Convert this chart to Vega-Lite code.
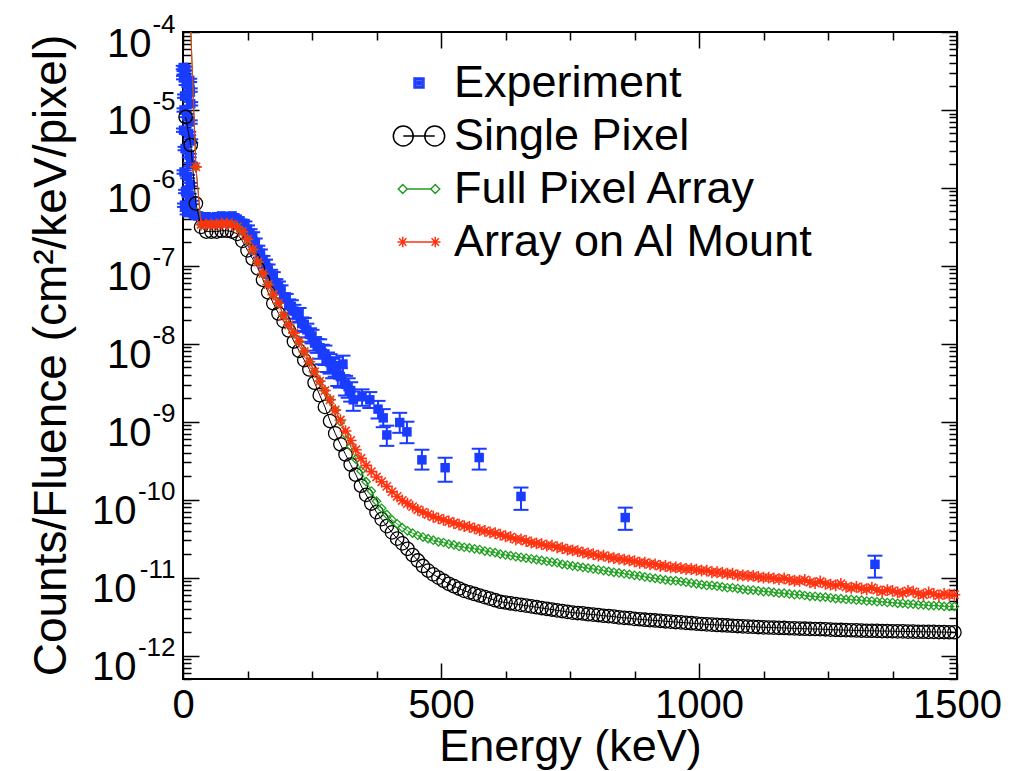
{
"$schema": "https://vega.github.io/schema/vega-lite/v6.json",
"width": 774, "height": 647,
"autosize": {"type": "none"},
"padding": {"left": 183, "top": 32, "right": 66, "bottom": 92},
"background": "white",
"config": {"view": {"stroke": "black", "strokeWidth": 2}, "font": "Liberation Sans"},
"datasets": {
"sp": [{"E":5,"v":8.13e-6},{"E":15,"v":3.55e-6},{"E":25,"v":6.31e-7},{"E":35,"v":3.16e-7},{"E":45,"v":2.75e-7},{"E":55,"v":2.75e-7},{"E":65,"v":2.75e-7},{"E":75,"v":2.82e-7},{"E":85,"v":2.82e-7},{"E":95,"v":2.75e-7},{"E":105,"v":2.57e-7},{"E":115,"v":2.09e-7},{"E":125,"v":1.58e-7},{"E":135,"v":1.23e-7},{"E":145,"v":9.33e-8},{"E":155,"v":6.61e-8},{"E":165,"v":4.57e-8},{"E":175,"v":3.31e-8},{"E":185,"v":2.45e-8},{"E":195,"v":1.95e-8},{"E":205,"v":1.48e-8},{"E":215,"v":1.07e-8},{"E":225,"v":8.13e-9},{"E":235,"v":6.17e-9},{"E":245,"v":4.68e-9},{"E":255,"v":3.16e-9},{"E":265,"v":2.19e-9},{"E":275,"v":1.55e-9},{"E":285,"v":1.02e-9},{"E":295,"v":7.08e-10},{"E":305,"v":5.13e-10},{"E":315,"v":3.80e-10},{"E":325,"v":2.82e-10},{"E":335,"v":2.09e-10},{"E":345,"v":1.51e-10},{"E":355,"v":1.15e-10},{"E":365,"v":8.91e-11},{"E":375,"v":6.92e-11},{"E":385,"v":5.62e-11},{"E":395,"v":4.57e-11},{"E":405,"v":3.80e-11},{"E":415,"v":3.16e-11},{"E":425,"v":2.75e-11},{"E":435,"v":2.34e-11},{"E":445,"v":1.95e-11},{"E":455,"v":1.66e-11},{"E":465,"v":1.41e-11},{"E":475,"v":1.23e-11},{"E":485,"v":1.10e-11},{"E":495,"v":1.00e-11},{"E":505,"v":9.12e-12},{"E":515,"v":8.32e-12},{"E":525,"v":7.76e-12},{"E":535,"v":7.24e-12},{"E":545,"v":6.76e-12},{"E":555,"v":6.46e-12},{"E":565,"v":6.17e-12},{"E":575,"v":5.89e-12},{"E":585,"v":5.62e-12},{"E":595,"v":5.37e-12},{"E":605,"v":5.13e-12},{"E":615,"v":4.90e-12},{"E":625,"v":4.79e-12},{"E":635,"v":4.68e-12},{"E":645,"v":4.57e-12},{"E":655,"v":4.47e-12},{"E":665,"v":4.37e-12},{"E":675,"v":4.27e-12},{"E":685,"v":4.17e-12},{"E":695,"v":4.07e-12},{"E":705,"v":3.98e-12},{"E":715,"v":3.89e-12},{"E":725,"v":3.80e-12},{"E":735,"v":3.72e-12},{"E":745,"v":3.63e-12},{"E":755,"v":3.55e-12},{"E":765,"v":3.51e-12},{"E":775,"v":3.47e-12},{"E":785,"v":3.39e-12},{"E":795,"v":3.35e-12},{"E":805,"v":3.31e-12},{"E":815,"v":3.24e-12},{"E":825,"v":3.20e-12},{"E":835,"v":3.16e-12},{"E":845,"v":3.09e-12},{"E":855,"v":3.05e-12},{"E":865,"v":3.02e-12},{"E":875,"v":2.95e-12},{"E":885,"v":2.92e-12},{"E":895,"v":2.88e-12},{"E":905,"v":2.85e-12},{"E":915,"v":2.82e-12},{"E":925,"v":2.79e-12},{"E":935,"v":2.75e-12},{"E":945,"v":2.72e-12},{"E":955,"v":2.69e-12},{"E":965,"v":2.66e-12},{"E":975,"v":2.63e-12},{"E":985,"v":2.60e-12},{"E":995,"v":2.57e-12},{"E":1005,"v":2.54e-12},{"E":1015,"v":2.51e-12},{"E":1025,"v":2.49e-12},{"E":1035,"v":2.47e-12},{"E":1045,"v":2.45e-12},{"E":1055,"v":2.43e-12},{"E":1065,"v":2.41e-12},{"E":1075,"v":2.39e-12},{"E":1085,"v":2.37e-12},{"E":1095,"v":2.35e-12},{"E":1105,"v":2.34e-12},{"E":1115,"v":2.32e-12},{"E":1125,"v":2.30e-12},{"E":1135,"v":2.29e-12},{"E":1145,"v":2.28e-12},{"E":1155,"v":2.27e-12},{"E":1165,"v":2.26e-12},{"E":1175,"v":2.24e-12},{"E":1185,"v":2.23e-12},{"E":1195,"v":2.22e-12},{"E":1205,"v":2.21e-12},{"E":1215,"v":2.20e-12},{"E":1225,"v":2.19e-12},{"E":1235,"v":2.18e-12},{"E":1245,"v":2.17e-12},{"E":1255,"v":2.15e-12},{"E":1265,"v":2.14e-12},{"E":1275,"v":2.13e-12},{"E":1285,"v":2.12e-12},{"E":1295,"v":2.11e-12},{"E":1305,"v":2.10e-12},{"E":1315,"v":2.09e-12},{"E":1325,"v":2.08e-12},{"E":1335,"v":2.08e-12},{"E":1345,"v":2.07e-12},{"E":1355,"v":2.06e-12},{"E":1365,"v":2.06e-12},{"E":1375,"v":2.05e-12},{"E":1385,"v":2.04e-12},{"E":1395,"v":2.04e-12},{"E":1405,"v":2.03e-12},{"E":1415,"v":2.03e-12},{"E":1425,"v":2.02e-12},{"E":1435,"v":2.02e-12},{"E":1445,"v":2.01e-12},{"E":1455,"v":2.01e-12},{"E":1465,"v":2.00e-12},{"E":1475,"v":2.00e-12},{"E":1485,"v":1.99e-12},{"E":1495,"v":1.99e-12}],
"fpa": [{"E":15,"v":1.1e-4},{"E":25,"v":1.86e-6},{"E":35,"v":3.39e-7},{"E":45,"v":3.39e-7},{"E":55,"v":3.39e-7},{"E":65,"v":3.39e-7},{"E":75,"v":3.47e-7},{"E":85,"v":3.47e-7},{"E":95,"v":3.39e-7},{"E":105,"v":3.16e-7},{"E":115,"v":2.75e-7},{"E":125,"v":2.19e-7},{"E":135,"v":1.62e-7},{"E":145,"v":1.12e-7},{"E":155,"v":7.94e-8},{"E":165,"v":5.75e-8},{"E":175,"v":4.27e-8},{"E":185,"v":3.31e-8},{"E":195,"v":2.29e-8},{"E":205,"v":1.74e-8},{"E":215,"v":1.38e-8},{"E":225,"v":1.07e-8},{"E":235,"v":7.94e-9},{"E":245,"v":5.89e-9},{"E":255,"v":4.37e-9},{"E":265,"v":3.31e-9},{"E":275,"v":2.51e-9},{"E":285,"v":1.91e-9},{"E":295,"v":1.41e-9},{"E":305,"v":1.00e-9},{"E":315,"v":6.92e-10},{"E":325,"v":4.79e-10},{"E":335,"v":3.31e-10},{"E":345,"v":2.34e-10},{"E":355,"v":1.70e-10},{"E":365,"v":1.29e-10},{"E":375,"v":9.55e-11},{"E":385,"v":7.76e-11},{"E":395,"v":6.46e-11},{"E":405,"v":5.50e-11},{"E":415,"v":4.90e-11},{"E":425,"v":4.37e-11},{"E":435,"v":3.98e-11},{"E":445,"v":3.72e-11},{"E":455,"v":3.47e-11},{"E":465,"v":3.31e-11},{"E":475,"v":3.16e-11},{"E":485,"v":3.02e-11},{"E":495,"v":2.88e-11},{"E":505,"v":2.82e-11},{"E":515,"v":2.69e-11},{"E":525,"v":2.63e-11},{"E":535,"v":2.51e-11},{"E":545,"v":2.45e-11},{"E":555,"v":2.40e-11},{"E":565,"v":2.34e-11},{"E":575,"v":2.29e-11},{"E":585,"v":2.19e-11},{"E":595,"v":2.14e-11},{"E":605,"v":2.09e-11},{"E":615,"v":2.00e-11},{"E":625,"v":1.95e-11},{"E":635,"v":1.91e-11},{"E":645,"v":1.86e-11},{"E":655,"v":1.82e-11},{"E":665,"v":1.78e-11},{"E":675,"v":1.74e-11},{"E":685,"v":1.70e-11},{"E":695,"v":1.66e-11},{"E":705,"v":1.62e-11},{"E":715,"v":1.58e-11},{"E":725,"v":1.55e-11},{"E":735,"v":1.48e-11},{"E":745,"v":1.45e-11},{"E":755,"v":1.41e-11},{"E":765,"v":1.38e-11},{"E":775,"v":1.35e-11},{"E":785,"v":1.32e-11},{"E":795,"v":1.29e-11},{"E":805,"v":1.26e-11},{"E":815,"v":1.23e-11},{"E":825,"v":1.20e-11},{"E":835,"v":1.17e-11},{"E":845,"v":1.15e-11},{"E":855,"v":1.12e-11},{"E":865,"v":1.10e-11},{"E":875,"v":1.07e-11},{"E":885,"v":1.05e-11},{"E":895,"v":1.02e-11},{"E":905,"v":1.00e-11},{"E":915,"v":9.77e-12},{"E":925,"v":9.55e-12},{"E":935,"v":9.33e-12},{"E":945,"v":9.12e-12},{"E":955,"v":9.12e-12},{"E":965,"v":8.91e-12},{"E":975,"v":8.71e-12},{"E":985,"v":8.51e-12},{"E":995,"v":8.32e-12},{"E":1005,"v":8.13e-12},{"E":1015,"v":7.94e-12},{"E":1025,"v":7.94e-12},{"E":1035,"v":7.76e-12},{"E":1045,"v":7.59e-12},{"E":1055,"v":7.41e-12},{"E":1065,"v":7.41e-12},{"E":1075,"v":7.24e-12},{"E":1085,"v":7.08e-12},{"E":1095,"v":6.92e-12},{"E":1105,"v":6.92e-12},{"E":1115,"v":6.76e-12},{"E":1125,"v":6.61e-12},{"E":1135,"v":6.61e-12},{"E":1145,"v":6.46e-12},{"E":1155,"v":6.31e-12},{"E":1165,"v":6.31e-12},{"E":1175,"v":6.17e-12},{"E":1185,"v":6.03e-12},{"E":1195,"v":6.03e-12},{"E":1205,"v":5.89e-12},{"E":1215,"v":5.75e-12},{"E":1225,"v":5.75e-12},{"E":1235,"v":5.62e-12},{"E":1245,"v":5.62e-12},{"E":1255,"v":5.50e-12},{"E":1265,"v":5.37e-12},{"E":1275,"v":5.37e-12},{"E":1285,"v":5.25e-12},{"E":1295,"v":5.25e-12},{"E":1305,"v":5.13e-12},{"E":1315,"v":5.13e-12},{"E":1325,"v":5.01e-12},{"E":1335,"v":5.01e-12},{"E":1345,"v":4.90e-12},{"E":1355,"v":4.90e-12},{"E":1365,"v":4.79e-12},{"E":1375,"v":4.79e-12},{"E":1385,"v":4.68e-12},{"E":1395,"v":4.68e-12},{"E":1405,"v":4.57e-12},{"E":1415,"v":4.57e-12},{"E":1425,"v":4.47e-12},{"E":1435,"v":4.47e-12},{"E":1445,"v":4.37e-12},{"E":1455,"v":4.37e-12},{"E":1465,"v":4.37e-12},{"E":1475,"v":4.27e-12},{"E":1485,"v":4.27e-12},{"E":1495,"v":4.27e-12}],
"al": [{"E":15,"v":1.1e-4},{"E":25,"v":1.86e-6},{"E":35,"v":3.39e-7},{"E":45,"v":3.39e-7},{"E":55,"v":3.39e-7},{"E":65,"v":3.39e-7},{"E":75,"v":3.47e-7},{"E":85,"v":3.47e-7},{"E":95,"v":3.39e-7},{"E":105,"v":3.16e-7},{"E":115,"v":2.75e-7},{"E":125,"v":2.19e-7},{"E":135,"v":1.62e-7},{"E":145,"v":1.12e-7},{"E":155,"v":7.94e-8},{"E":165,"v":5.75e-8},{"E":175,"v":4.27e-8},{"E":185,"v":3.31e-8},{"E":195,"v":2.29e-8},{"E":205,"v":1.74e-8},{"E":215,"v":1.38e-8},{"E":225,"v":1.07e-8},{"E":235,"v":7.94e-9},{"E":245,"v":5.89e-9},{"E":255,"v":4.37e-9},{"E":265,"v":3.31e-9},{"E":275,"v":2.51e-9},{"E":285,"v":1.91e-9},{"E":295,"v":1.41e-9},{"E":305,"v":1.05e-9},{"E":315,"v":7.59e-10},{"E":325,"v":5.75e-10},{"E":335,"v":4.37e-10},{"E":345,"v":3.39e-10},{"E":355,"v":2.75e-10},{"E":365,"v":2.29e-10},{"E":375,"v":1.95e-10},{"E":385,"v":1.70e-10},{"E":395,"v":1.48e-10},{"E":405,"v":1.26e-10},{"E":415,"v":1.10e-10},{"E":425,"v":9.77e-11},{"E":435,"v":8.91e-11},{"E":445,"v":8.13e-11},{"E":455,"v":7.41e-11},{"E":465,"v":6.92e-11},{"E":475,"v":6.46e-11},{"E":485,"v":6.03e-11},{"E":495,"v":5.75e-11},{"E":505,"v":5.50e-11},{"E":515,"v":5.25e-11},{"E":525,"v":5.01e-11},{"E":535,"v":4.79e-11},{"E":545,"v":4.57e-11},{"E":555,"v":4.47e-11},{"E":565,"v":4.27e-11},{"E":575,"v":4.07e-11},{"E":585,"v":3.98e-11},{"E":595,"v":3.80e-11},{"E":605,"v":3.72e-11},{"E":615,"v":3.55e-11},{"E":625,"v":3.39e-11},{"E":635,"v":3.31e-11},{"E":645,"v":3.09e-11},{"E":655,"v":3.09e-11},{"E":665,"v":2.95e-11},{"E":675,"v":2.82e-11},{"E":685,"v":2.75e-11},{"E":695,"v":2.69e-11},{"E":705,"v":2.57e-11},{"E":715,"v":2.57e-11},{"E":725,"v":2.45e-11},{"E":735,"v":2.40e-11},{"E":745,"v":2.29e-11},{"E":755,"v":2.24e-11},{"E":765,"v":2.19e-11},{"E":775,"v":2.09e-11},{"E":785,"v":2.04e-11},{"E":795,"v":2.00e-11},{"E":805,"v":1.91e-11},{"E":815,"v":1.91e-11},{"E":825,"v":1.82e-11},{"E":835,"v":1.78e-11},{"E":845,"v":1.74e-11},{"E":855,"v":1.70e-11},{"E":865,"v":1.66e-11},{"E":875,"v":1.62e-11},{"E":885,"v":1.55e-11},{"E":895,"v":1.55e-11},{"E":905,"v":1.48e-11},{"E":915,"v":1.48e-11},{"E":925,"v":1.41e-11},{"E":935,"v":1.41e-11},{"E":945,"v":1.35e-11},{"E":955,"v":1.35e-11},{"E":965,"v":1.32e-11},{"E":975,"v":1.29e-11},{"E":985,"v":1.29e-11},{"E":995,"v":1.26e-11},{"E":1005,"v":1.23e-11},{"E":1015,"v":1.23e-11},{"E":1025,"v":1.17e-11},{"E":1035,"v":1.17e-11},{"E":1045,"v":1.15e-11},{"E":1055,"v":1.12e-11},{"E":1065,"v":1.12e-11},{"E":1075,"v":1.07e-11},{"E":1085,"v":1.07e-11},{"E":1095,"v":1.05e-11},{"E":1105,"v":1.05e-11},{"E":1115,"v":1.02e-11},{"E":1125,"v":1.00e-11},{"E":1135,"v":1.00e-11},{"E":1145,"v":9.77e-12},{"E":1155,"v":9.55e-12},{"E":1165,"v":9.77e-12},{"E":1175,"v":9.33e-12},{"E":1185,"v":9.12e-12},{"E":1195,"v":9.12e-12},{"E":1205,"v":9.33e-12},{"E":1215,"v":8.71e-12},{"E":1225,"v":8.51e-12},{"E":1235,"v":8.91e-12},{"E":1245,"v":8.32e-12},{"E":1255,"v":8.13e-12},{"E":1265,"v":7.94e-12},{"E":1275,"v":8.32e-12},{"E":1285,"v":7.59e-12},{"E":1295,"v":7.41e-12},{"E":1305,"v":7.59e-12},{"E":1315,"v":7.24e-12},{"E":1325,"v":7.08e-12},{"E":1335,"v":7.41e-12},{"E":1345,"v":6.92e-12},{"E":1355,"v":6.61e-12},{"E":1365,"v":6.92e-12},{"E":1375,"v":6.76e-12},{"E":1385,"v":6.46e-12},{"E":1395,"v":6.31e-12},{"E":1405,"v":6.76e-12},{"E":1415,"v":6.61e-12},{"E":1425,"v":6.17e-12},{"E":1435,"v":6.03e-12},{"E":1445,"v":6.46e-12},{"E":1455,"v":6.17e-12},{"E":1465,"v":5.89e-12},{"E":1475,"v":6.17e-12},{"E":1485,"v":6.03e-12},{"E":1495,"v":6.03e-12}],
"exp": [
{"s":"Experiment","E":0.5,"v":3.5e-5,"lo":3.33e-5,"hi":3.68e-5},
{"s":"Experiment","E":2,"v":3.0e-5,"lo":2.85e-5,"hi":3.15e-5},
{"s":"Experiment","E":4,"v":3.4e-5,"lo":3.23e-5,"hi":3.57e-5},
{"s":"Experiment","E":1,"v":2.6e-5,"lo":2.47e-5,"hi":2.73e-5},
{"s":"Experiment","E":6,"v":2.2e-5,"lo":2.09e-5,"hi":2.31e-5},
{"s":"Experiment","E":13,"v":2.4e-5,"lo":2.28e-5,"hi":2.52e-5},
{"s":"Experiment","E":14,"v":1.8e-5,"lo":1.71e-5,"hi":1.89e-5},
{"s":"Experiment","E":3,"v":1.5e-5,"lo":1.43e-5,"hi":1.58e-5},
{"s":"Experiment","E":9,"v":1.6e-5,"lo":1.52e-5,"hi":1.68e-5},
{"s":"Experiment","E":15,"v":1.2e-5,"lo":1.14e-5,"hi":1.26e-5},
{"s":"Experiment","E":2,"v":1.0e-5,"lo":9.5e-6,"hi":1.05e-5},
{"s":"Experiment","E":7,"v":8.5e-6,"lo":8.08e-6,"hi":8.93e-6},
{"s":"Experiment","E":14,"v":7.0e-6,"lo":6.65e-6,"hi":7.35e-6},
{"s":"Experiment","E":1,"v":5.5e-6,"lo":5.23e-6,"hi":5.78e-6},
{"s":"Experiment","E":11,"v":5.0e-6,"lo":4.75e-6,"hi":5.25e-6},
{"s":"Experiment","E":15,"v":4.0e-6,"lo":3.8e-6,"hi":4.2e-6},
{"s":"Experiment","E":4,"v":3.2e-6,"lo":3.04e-6,"hi":3.36e-6},
{"s":"Experiment","E":12,"v":2.6e-6,"lo":2.47e-6,"hi":2.73e-6},
{"s":"Experiment","E":15,"v":2.0e-6,"lo":1.9e-6,"hi":2.1e-6},
{"s":"Experiment","E":2,"v":1.6e-6,"lo":1.52e-6,"hi":1.68e-6},
{"s":"Experiment","E":9,"v":1.4e-6,"lo":1.33e-6,"hi":1.47e-6},
{"s":"Experiment","E":14,"v":1.1e-6,"lo":1.05e-6,"hi":1.16e-6},
{"s":"Experiment","E":5,"v":9.0e-7,"lo":8.55e-7,"hi":9.45e-7},
{"s":"Experiment","E":12,"v":8.0e-7,"lo":7.6e-7,"hi":8.4e-7},
{"s":"Experiment","E":17,"v":6.5e-7,"lo":6.18e-7,"hi":6.83e-7},
{"s":"Experiment","E":3,"v":6.0e-7,"lo":5.7e-7,"hi":6.3e-7},
{"s":"Experiment","E":10,"v":5.5e-7,"lo":5.23e-7,"hi":5.78e-7},
{"s":"Experiment","E":16,"v":5.0e-7,"lo":4.75e-7,"hi":5.25e-7},
{"s":"Experiment","E":21,"v":4.6e-7,"lo":4.37e-7,"hi":4.83e-7},
{"s":"Experiment","E":8,"v":4.8e-7,"lo":4.56e-7,"hi":5.04e-7},
{"s":"Experiment","E":25,"v":4.4e-7,"lo":4.18e-7,"hi":4.62e-7},
{"s":"Experiment","E":30,"v":4.37e-7,"lo":4.11e-7,"hi":4.63e-7},
{"s":"Experiment","E":35,"v":4.17e-7,"lo":3.92e-7,"hi":4.42e-7},
{"s":"Experiment","E":40,"v":3.98e-7,"lo":3.74e-7,"hi":4.22e-7},
{"s":"Experiment","E":45,"v":4.27e-7,"lo":4.01e-7,"hi":4.53e-7},
{"s":"Experiment","E":50,"v":4.07e-7,"lo":3.83e-7,"hi":4.31e-7},
{"s":"Experiment","E":55,"v":4.17e-7,"lo":3.92e-7,"hi":4.42e-7},
{"s":"Experiment","E":60,"v":3.98e-7,"lo":3.74e-7,"hi":4.22e-7},
{"s":"Experiment","E":65,"v":4.27e-7,"lo":4.01e-7,"hi":4.53e-7},
{"s":"Experiment","E":70,"v":4.17e-7,"lo":3.92e-7,"hi":4.42e-7},
{"s":"Experiment","E":75,"v":4.37e-7,"lo":4.11e-7,"hi":4.63e-7},
{"s":"Experiment","E":80,"v":4.07e-7,"lo":3.83e-7,"hi":4.31e-7},
{"s":"Experiment","E":85,"v":4.27e-7,"lo":4.01e-7,"hi":4.53e-7},
{"s":"Experiment","E":90,"v":4.17e-7,"lo":3.92e-7,"hi":4.42e-7},
{"s":"Experiment","E":95,"v":4.37e-7,"lo":4.11e-7,"hi":4.63e-7},
{"s":"Experiment","E":100,"v":4.07e-7,"lo":3.83e-7,"hi":4.31e-7},
{"s":"Experiment","E":105,"v":3.98e-7,"lo":3.74e-7,"hi":4.22e-7},
{"s":"Experiment","E":110,"v":3.72e-7,"lo":3.50e-7,"hi":3.94e-7},
{"s":"Experiment","E":115,"v":3.47e-7,"lo":3.05e-7,"hi":3.89e-7},
{"s":"Experiment","E":120,"v":3.31e-7,"lo":2.91e-7,"hi":3.71e-7},
{"s":"Experiment","E":125,"v":2.95e-7,"lo":2.60e-7,"hi":3.30e-7},
{"s":"Experiment","E":130,"v":2.63e-7,"lo":2.31e-7,"hi":2.95e-7},
{"s":"Experiment","E":135,"v":2.40e-7,"lo":2.11e-7,"hi":2.69e-7},
{"s":"Experiment","E":140,"v":2.00e-7,"lo":1.76e-7,"hi":2.24e-7},
{"s":"Experiment","E":145,"v":1.62e-7,"lo":1.43e-7,"hi":1.81e-7},
{"s":"Experiment","E":150,"v":1.45e-7,"lo":1.28e-7,"hi":1.62e-7},
{"s":"Experiment","E":155,"v":1.20e-7,"lo":1.06e-7,"hi":1.34e-7},
{"s":"Experiment","E":160,"v":1.07e-7,"lo":9.42e-8,"hi":1.20e-7},
{"s":"Experiment","E":165,"v":9.33e-8,"lo":8.21e-8,"hi":1.04e-7},
{"s":"Experiment","E":170,"v":7.94e-8,"lo":6.99e-8,"hi":8.89e-8},
{"s":"Experiment","E":175,"v":7.41e-8,"lo":6.52e-8,"hi":8.30e-8},
{"s":"Experiment","E":180,"v":6.03e-8,"lo":5.31e-8,"hi":6.75e-8},
{"s":"Experiment","E":185,"v":5.62e-8,"lo":4.95e-8,"hi":6.29e-8},
{"s":"Experiment","E":190,"v":5.01e-8,"lo":4.41e-8,"hi":5.61e-8},
{"s":"Experiment","E":195,"v":3.98e-8,"lo":3.50e-8,"hi":4.46e-8},
{"s":"Experiment","E":200,"v":3.89e-8,"lo":3.42e-8,"hi":4.36e-8},
{"s":"Experiment","E":205,"v":3.09e-8,"lo":2.47e-8,"hi":3.71e-8},
{"s":"Experiment","E":210,"v":3.02e-8,"lo":2.42e-8,"hi":3.62e-8},
{"s":"Experiment","E":215,"v":2.63e-8,"lo":2.10e-8,"hi":3.16e-8},
{"s":"Experiment","E":220,"v":2.34e-8,"lo":1.87e-8,"hi":2.81e-8},
{"s":"Experiment","E":225,"v":2.40e-8,"lo":1.92e-8,"hi":2.88e-8},
{"s":"Experiment","E":230,"v":1.82e-8,"lo":1.46e-8,"hi":2.18e-8},
{"s":"Experiment","E":235,"v":1.78e-8,"lo":1.42e-8,"hi":2.14e-8},
{"s":"Experiment","E":240,"v":1.51e-8,"lo":1.21e-8,"hi":1.81e-8},
{"s":"Experiment","E":245,"v":1.32e-8,"lo":1.06e-8,"hi":1.58e-8},
{"s":"Experiment","E":250,"v":1.26e-8,"lo":1.01e-8,"hi":1.51e-8},
{"s":"Experiment","E":255,"v":1.02e-8,"lo":8.16e-9,"hi":1.22e-8},
{"s":"Experiment","E":260,"v":9.55e-9,"lo":7.64e-9,"hi":1.15e-8},
{"s":"Experiment","E":265,"v":8.91e-9,"lo":6.42e-9,"hi":1.14e-8},
{"s":"Experiment","E":270,"v":7.59e-9,"lo":5.46e-9,"hi":9.72e-9},
{"s":"Experiment","E":275,"v":7.41e-9,"lo":5.34e-9,"hi":9.48e-9},
{"s":"Experiment","E":280,"v":6.03e-9,"lo":4.34e-9,"hi":7.72e-9},
{"s":"Experiment","E":285,"v":5.75e-9,"lo":4.14e-9,"hi":7.36e-9},
{"s":"Experiment","E":290,"v":5.01e-9,"lo":3.61e-9,"hi":6.41e-9},
{"s":"Experiment","E":295,"v":5.25e-9,"lo":3.78e-9,"hi":6.72e-9},
{"s":"Experiment","E":300,"v":3.98e-9,"lo":2.87e-9,"hi":5.09e-9},
{"s":"Experiment","E":305,"v":3.80e-9,"lo":2.74e-9,"hi":4.86e-9},
{"s":"Experiment","E":310,"v":5.50e-9,"lo":3.96e-9,"hi":7.04e-9},
{"s":"Experiment","E":315,"v":3.02e-9,"lo":2.17e-9,"hi":3.87e-9},
{"s":"Experiment","E":320,"v":2.82e-9,"lo":2.03e-9,"hi":3.61e-9},
{"s":"Experiment","E":325,"v":2.51e-9,"lo":1.81e-9,"hi":3.21e-9},
{"s":"Experiment","E":330,"v":1.91e-9,"lo":1.38e-9,"hi":2.44e-9},
{"s":"Experiment","E":347,"v":2.09e-9,"lo":1.6e-9,"hi":2.6e-9},
{"s":"Experiment","E":362,"v":1.91e-9,"lo":1.5e-9,"hi":2.4e-9},
{"s":"Experiment","E":378,"v":1.45e-9,"lo":1.1e-9,"hi":1.85e-9},
{"s":"Experiment","E":388,"v":1.12e-9,"lo":8.5e-10,"hi":1.45e-9},
{"s":"Experiment","E":395,"v":6.76e-10,"lo":4.9e-10,"hi":8.9e-10},
{"s":"Experiment","E":420,"v":9.77e-10,"lo":7.2e-10,"hi":1.3e-9},
{"s":"Experiment","E":434,"v":7.41e-10,"lo":5.3e-10,"hi":1.0e-9},
{"s":"Experiment","E":463,"v":3.24e-10,"lo":2.43e-10,"hi":4.37e-10},
{"s":"Experiment","E":508,"v":2.57e-10,"lo":1.7e-10,"hi":3.45e-10},
{"s":"Experiment","E":574,"v":3.47e-10,"lo":2.43e-10,"hi":4.5e-10},
{"s":"Experiment","E":655,"v":1.10e-10,"lo":7.4e-11,"hi":1.43e-10},
{"s":"Experiment","E":857,"v":5.89e-11,"lo":4.1e-11,"hi":7.9e-11},
{"s":"Experiment","E":1341,"v":1.48e-11,"lo":1.0e-11,"hi":1.91e-11}
]
},
"resolve": {"axis": {"x": "independent", "y": "independent"}},
"layer": [
{
"data": {"name": "exp"},
"mark": {"type": "rule", "color": "#1a3cff", "strokeWidth": 2},
"encoding": {
"x": {"field": "E", "type": "quantitative", "scale": {"domain": [0, 1500], "nice": false, "zero": false},
 "axis": {"orient": "bottom", "values": [0,125,250,375,500,625,750,875,1000,1125,1250,1375,1500], "labels": false, "domain": false, "grid": false, "tickColor": "black", "tickWidth": 1.5, "tickSize": {"condition": {"test": "datum.value % 500 === 0", "value": -16}, "value": -8}, "title": null}},
"y": {"field": "lo", "type": "quantitative", "scale": {"type": "log", "domain": [5e-13, 1e-4], "nice": false},
 "axis": {"orient": "left", "values": [5e-13,6e-13,7e-13,8e-13,9e-13,1e-12,2e-12,3e-12,4e-12,5e-12,6e-12,7e-12,8e-12,9e-12,1e-11,2e-11,3e-11,4e-11,5e-11,6e-11,7e-11,8e-11,9e-11,1e-10,2e-10,3e-10,4e-10,5e-10,6e-10,7e-10,8e-10,9e-10,1e-9,2e-9,3e-9,4e-9,5e-9,6e-9,7e-9,8e-9,9e-9,1e-8,2e-8,3e-8,4e-8,5e-8,6e-8,7e-8,8e-8,9e-8,1e-7,2e-7,3e-7,4e-7,5e-7,6e-7,7e-7,8e-7,9e-7,1e-6,2e-6,3e-6,4e-6,5e-6,6e-6,7e-6,8e-6,9e-6,1e-5,2e-5,3e-5,4e-5,5e-5,6e-5,7e-5,8e-5,9e-5,1e-4], "labels": false, "domain": false, "grid": false, "tickColor": "black", "tickWidth": 1.5, "tickSize": {"condition": {"test": "abs(log(datum.value)/LN10-round(log(datum.value)/LN10))<0.001", "value": -16}, "value": -8}, "title": null}},
"y2": {"field": "hi"}
}
},
{
"data": {"name": "exp"},
"mark": {"type": "tick", "orient": "horizontal", "color": "#1a3cff", "size": 15, "thickness": 2, "opacity": 1},
"encoding": {
"x": {"field": "E", "type": "quantitative", "scale": {"domain": [0, 1500], "nice": false, "zero": false},
 "axis": {"orient": "top", "values": [0,125,250,375,500,625,750,875,1000,1125,1250,1375,1500], "labels": false, "domain": false, "grid": false, "tickColor": "black", "tickWidth": 1.5, "tickSize": {"condition": {"test": "datum.value % 500 === 0", "value": -16}, "value": -8}, "title": null}},
"y": {"field": "lo", "type": "quantitative", "scale": {"type": "log", "domain": [5e-13, 1e-4], "nice": false},
 "axis": {"orient": "right", "values": [5e-13,6e-13,7e-13,8e-13,9e-13,1e-12,2e-12,3e-12,4e-12,5e-12,6e-12,7e-12,8e-12,9e-12,1e-11,2e-11,3e-11,4e-11,5e-11,6e-11,7e-11,8e-11,9e-11,1e-10,2e-10,3e-10,4e-10,5e-10,6e-10,7e-10,8e-10,9e-10,1e-9,2e-9,3e-9,4e-9,5e-9,6e-9,7e-9,8e-9,9e-9,1e-8,2e-8,3e-8,4e-8,5e-8,6e-8,7e-8,8e-8,9e-8,1e-7,2e-7,3e-7,4e-7,5e-7,6e-7,7e-7,8e-7,9e-7,1e-6,2e-6,3e-6,4e-6,5e-6,6e-6,7e-6,8e-6,9e-6,1e-5,2e-5,3e-5,4e-5,5e-5,6e-5,7e-5,8e-5,9e-5,1e-4], "labels": false, "domain": false, "grid": false, "tickColor": "black", "tickWidth": 1.5, "tickSize": {"condition": {"test": "abs(log(datum.value)/LN10-round(log(datum.value)/LN10))<0.001", "value": -16}, "value": -8}, "title": null}}
}
},
{
"data": {"name": "exp"},
"mark": {"type": "tick", "orient": "horizontal", "color": "#1a3cff", "size": 15, "thickness": 2, "opacity": 1},
"encoding": {
"x": {"field": "E", "type": "quantitative", "scale": {"domain": [0, 1500], "nice": false, "zero": false},
 "axis": {"orient": "bottom", "values": [0, 500, 1000, 1500], "ticks": false, "tickSize": 0, "domain": false, "grid": false, "format": "d", "labelFont": "Liberation Sans", "labelFontSize": 40, "labelColor": "black", "labelPadding": 6, "labelFlush": false, "labelOverlap": false, "labelBound": false, "title": "Energy (keV)", "titleFont": "Liberation Sans", "titleFontSize": 45, "titleFontWeight": "normal", "titleColor": "black", "titleX": 387, "titleY": 81, "titleBaseline": "alphabetic"}},
"y": {"field": "hi", "type": "quantitative", "scale": {"type": "log", "domain": [5e-13, 1e-4], "nice": false},
 "axis": {"orient": "left", "values": [1e-12,1e-11,1e-10,1e-9,1e-8,1e-7,1e-6,1e-5,1e-4], "ticks": false, "tickSize": 0, "domain": false, "grid": false, "labelExpr": "'10'", "labelFont": "Liberation Sans", "labelFontSize": 40, "labelColor": "black", "labelAlign": "right", "labelBaseline": "middle", "labelOffset": 12, "labelPadding": {"condition": {"test": "datum.value < 5e-10", "value": 47}, "value": 32}, "labelOverlap": false, "labelFlush": false, "labelBound": false, "title": "Counts/Fluence (cm²/keV/pixel)", "titleFont": "Liberation Sans", "titleFontSize": 46, "titleFontWeight": "normal", "titleColor": "black", "titleX": -118, "titleY": 323, "titleBaseline": "alphabetic", "titleAngle": -90}}
}
},
{
"data": {"name": "exp"},
"mark": {"type": "point", "shape": "square", "filled": true, "size": 90, "opacity": 1, "color": "#1a3cff"},
"encoding": {
"x": {"field": "E", "type": "quantitative", "scale": {"domain": [0, 1500], "nice": false, "zero": false}, "axis": null},
"y": {"field": "v", "type": "quantitative", "scale": {"type": "log", "domain": [5e-13, 1e-4], "nice": false},
 "axis": {"orient": "left", "values": [1e-12,1e-11,1e-10,1e-9,1e-8,1e-7,1e-6,1e-5,1e-4], "ticks": false, "tickSize": 0, "domain": false, "grid": false, "labelExpr": "'-' + round(-log(datum.value)/LN10)", "labelFont": "Liberation Sans", "labelFontSize": 26, "labelColor": "black", "labelAlign": "right", "labelBaseline": "middle", "labelOffset": -8, "labelPadding": 8, "labelOverlap": false, "labelFlush": false, "labelBound": false, "title": null}}
}
},
{
"data": {"name": "sp"},
"mark": {"type": "line", "color": "black", "strokeWidth": 1},
"encoding": {
"x": {"field": "E", "type": "quantitative", "scale": {"domain": [0, 1500], "nice": false, "zero": false}, "axis": null},
"y": {"field": "v", "type": "quantitative", "scale": {"type": "log", "domain": [5e-13, 1e-4], "nice": false}, "axis": null}
}
},
{
"data": {"name": "sp"},
"mark": {"type": "point", "shape": "circle", "filled": false, "size": 180, "strokeWidth": 1.3, "color": "black", "opacity": 1},
"encoding": {
"x": {"field": "E", "type": "quantitative", "scale": {"domain": [0, 1500], "nice": false, "zero": false}, "axis": null},
"y": {"field": "v", "type": "quantitative", "scale": {"type": "log", "domain": [5e-13, 1e-4], "nice": false}, "axis": null}
}
},
{
"data": {"name": "fpa"},
"mark": {"type": "line", "color": "#20a020", "strokeWidth": 1, "clip": true},
"encoding": {
"x": {"field": "E", "type": "quantitative", "scale": {"domain": [0, 1500], "nice": false, "zero": false}, "axis": null},
"y": {"field": "v", "type": "quantitative", "scale": {"type": "log", "domain": [5e-13, 1e-4], "nice": false}, "axis": null}
}
},
{
"data": {"name": "fpa"},
"transform": [{"filter": "datum.v < 1e-4"}],
"mark": {"type": "point", "shape": "diamond", "filled": false, "size": 70, "strokeWidth": 1.3, "color": "#20a020", "opacity": 1},
"encoding": {
"x": {"field": "E", "type": "quantitative", "scale": {"domain": [0, 1500], "nice": false, "zero": false}, "axis": null},
"y": {"field": "v", "type": "quantitative", "scale": {"type": "log", "domain": [5e-13, 1e-4], "nice": false}, "axis": null}
}
},
{
"data": {"name": "al"},
"mark": {"type": "line", "color": "#ff3311", "strokeWidth": 1, "clip": true},
"encoding": {
"x": {"field": "E", "type": "quantitative", "scale": {"domain": [0, 1500], "nice": false, "zero": false}, "axis": null},
"y": {"field": "v", "type": "quantitative", "scale": {"type": "log", "domain": [5e-13, 1e-4], "nice": false}, "axis": null}
}
},
{
"data": {"name": "al"},
"transform": [{"filter": "datum.v < 1e-4"}],
"mark": {"type": "point", "shape": "M-1,0L1,0M0,-1L0,1M-0.7,-0.7L0.7,0.7M-0.7,0.7L0.7,-0.7", "filled": false, "size": 140, "strokeWidth": 1.6, "color": "#ff3311", "opacity": 1},
"encoding": {
"x": {"field": "E", "type": "quantitative", "scale": {"domain": [0, 1500], "nice": false, "zero": false}, "axis": null},
"y": {"field": "v", "type": "quantitative", "scale": {"type": "log", "domain": [5e-13, 1e-4], "nice": false}, "axis": null}
}
},
{
"data": {"name": "exp"},
"transform": [{"filter": "datum.E < 0"}],
"mark": {"type": "point", "filled": false, "strokeWidth": 1.5},
"encoding": {
"x": {"field": "E", "type": "quantitative", "scale": {"domain": [0, 1500], "nice": false, "zero": false}, "axis": null},
"y": {"field": "v", "type": "quantitative", "scale": {"type": "log", "domain": [5e-13, 1e-4], "nice": false}, "axis": null},
"color": {"field": "s", "type": "nominal",
 "scale": {"domain": ["Experiment", "Single Pixel", "Full Pixel Array", "Array on Al Mount"], "range": ["#1a3cff", "black", "#20a020", "#ff3311"]},
 "legend": {"orient": "none", "legendX": 209, "legendY": 24, "title": null, "padding": 0, "offset": 0, "symbolSize": 2750, "symbolStrokeWidth": 1.5, "symbolOpacity": 1, "symbolFillColor": "transparent", "labelFont": "Liberation Sans", "labelFontSize": 45, "labelColor": "black", "labelOffset": 8, "labelLimit": 1000, "rowPadding": 3}},
"shape": {"field": "s", "type": "nominal",
 "scale": {"domain": ["Experiment", "Single Pixel", "Full Pixel Array", "Array on Al Mount"], "range": [
  "M-0.19,-0.19L0.19,-0.19L0.19,0.19L-0.19,0.19ZM-0.13,-0.13L0.13,-0.13L0.13,0.13L-0.13,0.13ZM-0.07,-0.07L0.07,-0.07L0.07,0.07L-0.07,0.07ZM-0.02,-0.02L0.02,-0.02L0.02,0.02L-0.02,0.02Z",
  "M-0.6,0L0.6,0M-0.98,0A0.38 0.38 0 1 0 -0.22,0A0.38 0.38 0 1 0 -0.98,0M0.22,0A0.38 0.38 0 1 0 0.98,0A0.38 0.38 0 1 0 0.22,0",
  "M-0.45,0L0.45,0M-0.79,0L-0.62,-0.17L-0.45,0L-0.62,0.17ZM0.45,0L0.62,-0.17L0.79,0L0.62,0.17Z",
  "M-0.42,0L0.42,0M-0.82,0L-0.42,0M-0.62,-0.2L-0.62,0.2M-0.76,-0.14L-0.48,0.14M-0.76,0.14L-0.48,-0.14M0.42,0L0.82,0M0.62,-0.2L0.62,0.2M0.48,-0.14L0.76,0.14M0.48,0.14L0.76,-0.14"]},
 "legend": {"orient": "none", "legendX": 209, "legendY": 24, "title": null, "padding": 0, "offset": 0, "symbolSize": 2750, "symbolStrokeWidth": 1.5, "symbolOpacity": 1, "symbolFillColor": "transparent", "labelFont": "Liberation Sans", "labelFontSize": 45, "labelColor": "black", "labelOffset": 8, "labelLimit": 1000, "rowPadding": 3}}
}
}
]
}
